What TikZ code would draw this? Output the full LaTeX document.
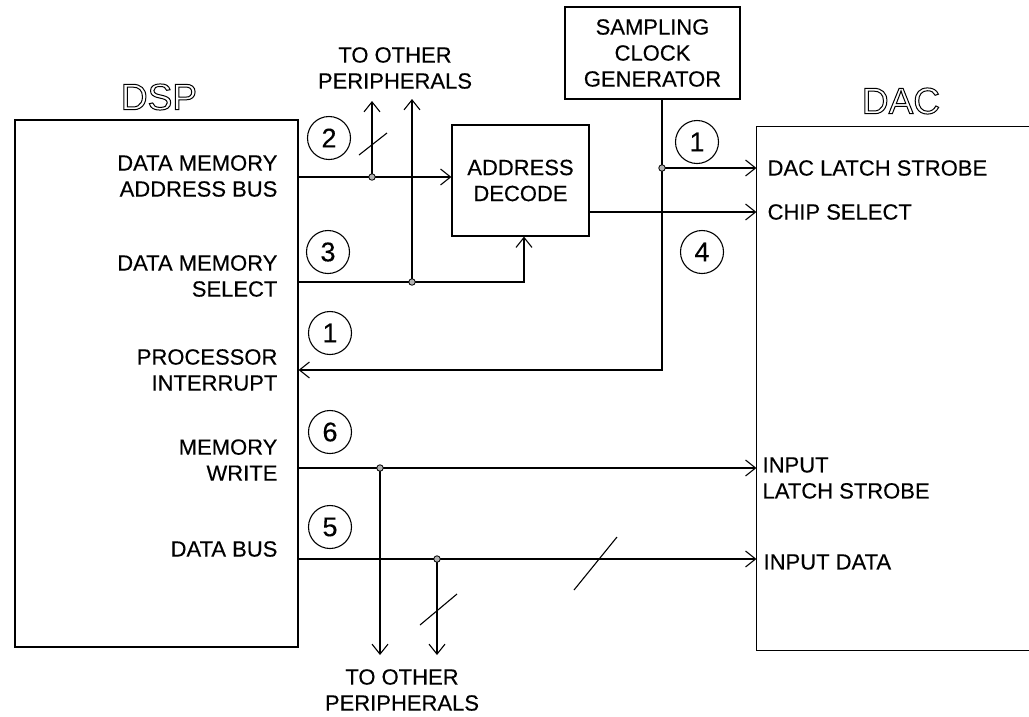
\documentclass[tikz,border=0pt]{standalone}
\usepackage{fontspec}
\setmainfont{Liberation Sans}
\newfontfamily\heavy{Liberation Sans}[FakeBold=0.3]
\usetikzlibrary{arrows.meta,calc}
\newcommand{\outlinetext}[1]{\special{pdf:literal direct 1 Tr 1 w}#1\special{pdf:literal direct 0 Tr}}
\begin{document}
\begin{tikzpicture}[x=1pt,y=-1pt,
  line width=1.2pt,
  box/.style={draw,rectangle,inner sep=0pt},
  lbl/.style={inner sep=0pt,font=\heavy\fontsize{22}{26}\selectfont},
  title/.style={inner sep=0pt,font=\fontsize{37}{40}\selectfont},
  num/.style={draw,circle,minimum size=43pt,inner sep=0pt,line width=1.1pt,font=\heavy\fontsize{27}{27}\selectfont},
  jdot/.style={circle,draw,fill=gray!60,minimum size=6.5pt,inner sep=0pt,line width=0.8pt},
  sig/.style={-{Straight Barb[length=10pt,width=16pt,line width=1.1pt]}},
  slash/.style={line width=1.1pt}]
\useasboundingbox (0,0) rectangle (1029,716);

% boxes
\node[box,minimum width=283pt,minimum height=527pt] (dsp) at (156.5,383.5) {};
\node[box,minimum width=137pt,minimum height=111pt,align=center,lbl] (addr) at (520.5,180.5) {ADDRESS\\DECODE};
\node[box,minimum width=175pt,minimum height=92pt,align=center,lbl] (clk) at (652.5,53) {SAMPLING\\CLOCK\\GENERATOR};
\node[minimum width=272pt,minimum height=523pt,inner sep=0pt] (dac) at (893,388.5) {};
\draw (dac.north east) -- (dac.north west) -- (dac.south west) -- (dac.south east);

% titles
\node[title] (dsptitle) at (159,97) {\outlinetext{DSP}};
\node[title] (dactitle) at (901,101) {\outlinetext{DAC}};

% DSP labels
\node[lbl,anchor=east,align=right] (l1) at (278,176) {DATA MEMORY\\ADDRESS BUS};
\node[lbl,anchor=east,align=right] (l2) at (278,276) {DATA MEMORY\\SELECT};
\node[lbl,anchor=east,align=right] (l3) at (278,370) {PROCESSOR\\INTERRUPT};
\node[lbl,anchor=east,align=right] (l4) at (278,460) {MEMORY\\WRITE};
\node[lbl,anchor=east,align=right] (l5) at (278,549) {DATA BUS};

% DAC labels
\node[lbl,anchor=west] (r1) at (767,168) {DAC LATCH STROBE};
\node[lbl,anchor=west] (r2) at (767,212) {CHIP SELECT};
\node[lbl,anchor=west,align=left] (r3) at (762,478) {INPUT\\LATCH STROBE};
\node[lbl,anchor=west] (r4) at (763,562) {INPUT DATA};

% peripheral labels
\node[lbl,align=center] (ptop) at (395,68) {TO OTHER\\PERIPHERALS};
\node[lbl,align=center] (pbot) at (402,690) {TO OTHER\\PERIPHERALS};

% circled numbers
\node[num] (n2) at (329,138) {2};
\node[num] (n3) at (328,252) {3};
\node[num] (n1a) at (697,142) {1};
\node[num] (n4) at (702,252) {4};
\node[num] (n1b) at (330,333) {1};
\node[num] (n6) at (330,432) {6};
\node[num] (n5) at (330,527) {5};

% junction coordinates
\coordinate (jA) at (372,177);
\coordinate (jS) at (412,282);
\coordinate (jC) at (662,168);
\coordinate (jW) at (380,468);
\coordinate (jD) at (437,559);
\coordinate (upA) at (372,101);
\coordinate (upS) at (412,99);
\coordinate (dnW) at (380,655);
\coordinate (dnD) at (437,655);
\coordinate (selT) at (524,282);
\coordinate (clkB) at (662,370);

% address bus
\draw[sig] (dsp.east |- jA) -- (addr.west |- jA);
\draw[sig] (jA) -- (upA);
\draw[slash] (359,155) -- (387,133);
% data memory select
\draw[sig] (dsp.east |- jS) -- (selT) -- (selT |- addr.south);
\draw[sig] (jS) -- (upS);
% clock
\draw[sig] (jC |- clk.south) -- (clkB) -- (dsp.east |- clkB);
\draw[sig] (jC) -- (dac.west |- jC);
% chip select
\draw[sig] (addr.east |- 0,212) -- (dac.west |- 0,212);
% memory write
\draw[sig] (dsp.east |- jW) -- (dac.west |- jW);
\draw[sig] (jW) -- (dnW);
% data bus
\draw[sig] (dsp.east |- jD) -- (dac.west |- jD);
\draw[sig] (jD) -- (dnD);
\draw[slash] (420,625) -- (457,594);
\draw[slash] (574,590) -- (617,537);

% dots
\foreach \j in {jA,jS,jC,jW,jD} \node[jdot] at (\j) {};
\end{tikzpicture}
\end{document}
